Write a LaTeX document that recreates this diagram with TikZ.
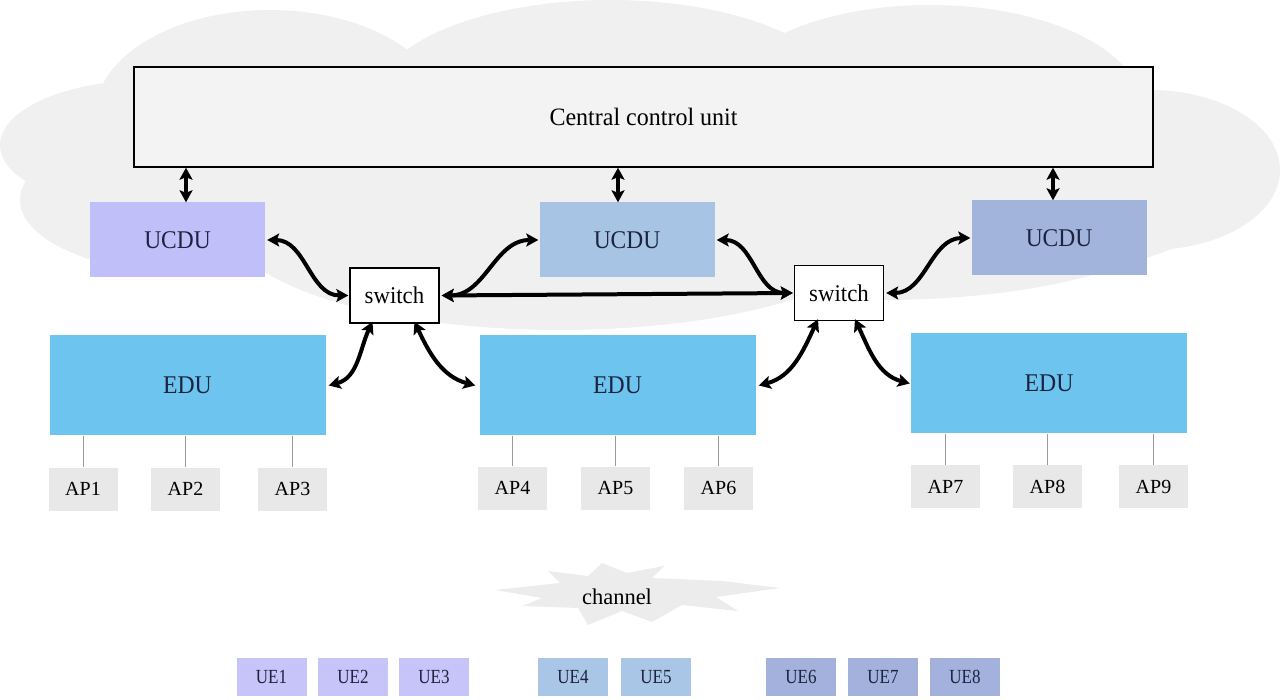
\documentclass[tikz,border=0pt]{standalone}
\usepackage{fontspec}
\setmainfont{Liberation Serif}
\usetikzlibrary{arrows.meta}
\definecolor{cloudgray}{HTML}{F0F0F0}
\definecolor{ccufill}{HTML}{F3F3F3}
\definecolor{lav}{HTML}{C1BFF9}
\definecolor{lblue}{HTML}{A8C4E4}
\definecolor{slate}{HTML}{A2B3DC}
\definecolor{edublue}{HTML}{6DC5EF}
\definecolor{apgray}{HTML}{E8E8E8}
\definecolor{chgray}{HTML}{ECECEC}
\definecolor{navytext}{HTML}{1B2340}
\definecolor{lavue}{HTML}{C6C4F9}
\definecolor{lblueue}{HTML}{AAC6E6}
\definecolor{slateue}{HTML}{A3B1DC}
\newcommand{\narrow}[2]{\scalebox{#1}[1]{#2}}
\begin{document}
\begin{tikzpicture}[x=1pt,y=-1pt,
  unitbox/.style={inner sep=0pt, minimum width=175pt, minimum height=75pt, text=navytext, font=\fontsize{25.5}{28}\selectfont},
  edubox/.style={inner sep=0pt, fill=edublue, minimum width=276pt, minimum height=100pt, text=navytext, font=\fontsize{25.5}{28}\selectfont},
  switchbox/.style={draw=black, line width=1.4pt, fill=white, inner sep=0pt, minimum width=89pt, minimum height=55pt, font=\fontsize{24}{26}\selectfont},
  apbox/.style={fill=apgray, inner sep=0pt, minimum width=69pt, minimum height=43pt, font=\fontsize{20}{24}\selectfont},
  uebox/.style={inner sep=0pt, minimum width=70pt, minimum height=38pt, text=navytext, font=\fontsize{20}{24}\selectfont},
  link/.style={{Stealth[length=12pt,width=13pt,inset=2.5pt]}-{Stealth[length=12pt,width=13pt,inset=2.5pt]}, line width=4pt, black},
  apline/.style={draw=gray!80, line width=0.8pt}
]
\useasboundingbox (0,0) rectangle (1280,700);
% cloud
\begin{scope}[fill=cloudgray]
  \fill (270,115) ellipse [x radius=175, y radius=105];
  \fill (610,100) ellipse [x radius=235, y radius=100];
  \fill (930,105) ellipse [x radius=210, y radius=100];
  \fill (150,145) ellipse [x radius=150, y radius=65];
  \fill (200,200) ellipse [x radius=180, y radius=75];
  \fill (1150,170) ellipse [x radius=130, y radius=80];
  \fill (1050,200) ellipse [x radius=170, y radius=70];
  \fill (560,225) ellipse [x radius=330, y radius=105];
  \fill (880,215) ellipse [x radius=300, y radius=85];
\end{scope}
% central control unit
\node[draw=black, line width=1.4pt, fill=ccufill, inner sep=0pt, minimum width=1019pt, minimum height=100pt, font=\fontsize{25}{28}\selectfont] (ccu) at (643.5,117) {\narrow{0.96}{Central control unit}};
% UCDUs
\node[unitbox, fill=lav] (u1) at (177.5,240) {\narrow{0.92}{UCDU}};
\node[unitbox, fill=lblue] (u2) at (627,240) {\narrow{0.92}{UCDU}};
\node[unitbox, fill=slate] (u3) at (1059,238) {\narrow{0.92}{UCDU}};
% switches
\node[switchbox] (sw1) at (394.5,295.5) {\narrow{0.95}{switch}};
\node[switchbox] (sw2) at (839,293) {\narrow{0.95}{switch}};
% EDUs
\node[edubox] (e1) at (187.5,385.5) {\narrow{0.93}{EDU}};
\node[edubox] (e2) at (617.5,385.5) {\narrow{0.93}{EDU}};
\node[edubox] (e3) at (1049,383.5) {\narrow{0.93}{EDU}};
% APs
\node[apbox] (a1) at (83,489) {AP1};
\node[apbox] (a2) at (185.5,489) {AP2};
\node[apbox] (a3) at (292.5,489) {AP3};
\node[apbox] (a4) at (512.5,488) {AP4};
\node[apbox] (a5) at (615.5,488) {AP5};
\node[apbox] (a6) at (718.5,488) {AP6};
\node[apbox] (a7) at (945.5,486.5) {AP7};
\node[apbox] (a8) at (1047.5,486.5) {AP8};
\node[apbox] (a9) at (1153.5,486.5) {AP9};
\foreach \a/\e in {a1/e1,a2/e1,a3/e1,a4/e2,a5/e2,a6/e2,a7/e3,a8/e3,a9/e3}
  \draw[apline] (\a.north |- \e.south) -- (\a.north);
% channel
\fill[chgray] (495,590) -- (560,583) -- (548,571) -- (588,576) -- (602,563) -- (627,573) -- (664,566) -- (652,578) -- (722,581) -- (780,588) -- (716,597) -- (738,611) -- (682,605) -- (652,622) -- (622,611) -- (588,625) -- (578,608) -- (522,606) -- (542,598) -- cycle;
\node[font=\fontsize{22.5}{26}\selectfont, inner sep=0pt] (ch) at (617,597) {channel};
% UEs
\node[uebox, fill=lavue] (ue1) at (271.5,677) {\narrow{0.85}{UE1}};
\node[uebox, fill=lavue] (ue2) at (353,677) {\narrow{0.85}{UE2}};
\node[uebox, fill=lavue] (ue3) at (434,677) {\narrow{0.85}{UE3}};
\node[uebox, fill=lblueue] (ue4) at (573,677) {\narrow{0.85}{UE4}};
\node[uebox, fill=lblueue] (ue5) at (656,677) {\narrow{0.85}{UE5}};
\node[uebox, fill=slateue] (ue6) at (801,677) {\narrow{0.85}{UE6}};
\node[uebox, fill=slateue] (ue7) at (883,677) {\narrow{0.85}{UE7}};
\node[uebox, fill=slateue] (ue8) at (965,677) {\narrow{0.85}{UE8}};
% vertical links
\draw[link] ([xshift=8.5pt]u1.north) -- ([xshift=8.5pt]u1.north |- ccu.south);
\draw[link] ([xshift=-9pt]u2.north) -- ([xshift=-9pt]u2.north |- ccu.south);
\draw[link] ([xshift=-6pt]u3.north) -- ([xshift=-6pt]u3.north |- ccu.south);
% curved links
\draw[link] ([xshift=2pt]u1.east) to[out=0,in=180] ([xshift=-1pt]sw1.west);
\draw[link] ([xshift=2pt]sw1.east) to[out=0,in=180] ([xshift=-1pt]u2.west);
\draw[link] ([xshift=2pt]u2.east) to[out=0,in=180] ([xshift=-1pt]sw2.west);
\draw[link] ([xshift=2pt]sw2.east) to[out=0,in=180] ([xshift=-1pt]u3.west);
\draw[link] ([xshift=2pt]sw1.east) -- ([xshift=-1pt]sw2.west);
\draw[link] ([xshift=-22pt,yshift=2pt]sw1.south) to[out=-115,in=15] ([xshift=3pt]e1.east);
\draw[link] ([xshift=20pt,yshift=2pt]sw1.south) to[out=-65,in=165] ([xshift=-4pt]e2.west);
\draw[link] ([xshift=-21pt,yshift=2pt]sw2.south) to[out=-115,in=15] ([xshift=3pt]e2.east);
\draw[link] ([xshift=16pt,yshift=2pt]sw2.south) to[out=-65,in=165] ([xshift=-1pt]e3.west);
\end{tikzpicture}
\end{document}
